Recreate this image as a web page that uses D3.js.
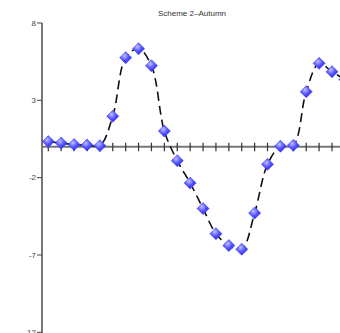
<!DOCTYPE html>
<html>
<head>
<meta charset="utf-8">
<script src="https://cdn.jsdelivr.net/npm/d3@7"></script>
<style>
  html, body { margin: 0; padding: 0; background: #fff; }
  svg { display: block; }
</style>
</head>
<body>
<div id="chart"></div>
<script>
const title = "Scheme 2\u2013Autumn";
const yTicks = [8, 3, -2, -7, -12];
const values = [0.33, 0.24, 0.14, 0.11, 0.07, 1.97, 5.76, 6.34, 5.24, 1.01,
  -0.9, -2.35, -4.0, -5.62, -6.39, -6.63, -4.29, -1.14, 0.03, 0.09,
  3.56, 5.39, 4.85, 4.35];
const xTickCount = 23;

const W = 340, H = 333;
const svg = d3.select("#chart").append("svg").attr("width", W).attr("height", H);

const x = d3.scaleLinear().domain([0, 22]).range([48.3, 332]);
const y = d3.scaleLinear().domain([-12, 8]).range([332.3, 23]);

// ── Title ─────────────────────────────────────────────
svg.append("text")
  .attr("x", 192).attr("y", 16)
  .attr("text-anchor", "middle")
  .attr("font-family", "Liberation Sans, Arial, sans-serif")
  .attr("font-size", 8)
  .attr("fill", "#333")
  .text(title);

// ── Y axis ────────────────────────────────────────────
const yAxis = svg.append("g");
yAxis.append("line")
  .attr("x1", 42).attr("x2", 42)
  .attr("y1", y(8)).attr("y2", H)
  .attr("stroke", "#777").attr("stroke-width", 2);
yAxis.selectAll("line.tick").data(yTicks).join("line")
  .attr("class", "tick")
  .attr("x1", 37).attr("x2", 42)
  .attr("y1", d => y(d)).attr("y2", d => y(d))
  .attr("stroke", "#444").attr("stroke-width", 1);
yAxis.selectAll("text").data(yTicks).join("text")
  .attr("x", 36).attr("y", d => y(d))
  .attr("dy", "0.35em")
  .attr("text-anchor", "end")
  .attr("font-family", "Liberation Sans, Arial, sans-serif")
  .attr("font-size", 8)
  .attr("fill", "#444")
  .text(d => d);

// ── X axis at zero ────────────────────────────────────
const xAxis = svg.append("g");
xAxis.append("line")
  .attr("x1", 42).attr("x2", W)
  .attr("y1", y(0)).attr("y2", y(0))
  .attr("stroke", "#777").attr("stroke-width", 2);
xAxis.selectAll("line.tick").data(d3.range(xTickCount)).join("line")
  .attr("class", "tick")
  .attr("x1", d => x(d)).attr("x2", d => x(d))
  .attr("y1", y(0) - 4).attr("y2", y(0) + 4.5)
  .attr("stroke", "#333").attr("stroke-width", 1.2);

// ── Line ──────────────────────────────────────────────
const line = d3.line()
  .x((d, i) => x(i))
  .y(d => y(d))
  .curve(d3.curveCatmullRom.alpha(0.5));

svg.append("path")
  .datum(values)
  .attr("d", line)
  .attr("fill", "none")
  .attr("stroke", "#111")
  .attr("stroke-width", 1.6)
  .attr("stroke-dasharray", "9 5");

// ── Markers ───────────────────────────────────────────
const defs = svg.append("defs");
const grad = defs.append("radialGradient")
  .attr("id", "gem")
  .attr("cx", "40%").attr("cy", "35%").attr("r", "65%");
grad.append("stop").attr("offset", "0%").attr("stop-color", "#c0c0ff");
grad.append("stop").attr("offset", "55%").attr("stop-color", "#5555ff");
grad.append("stop").attr("offset", "100%").attr("stop-color", "#2a2ae8");

svg.append("g").selectAll("path").data(values).join("path")
  .attr("transform", (d, i) => `translate(${x(i)},${y(d)})`)
  .attr("d", "M0,-6L6,0L0,6L-6,0Z")
  .attr("fill", "url(#gem)")
  .attr("stroke", "#3a3aff")
  .attr("stroke-width", 0.6);
</script>
</body>
</html>
